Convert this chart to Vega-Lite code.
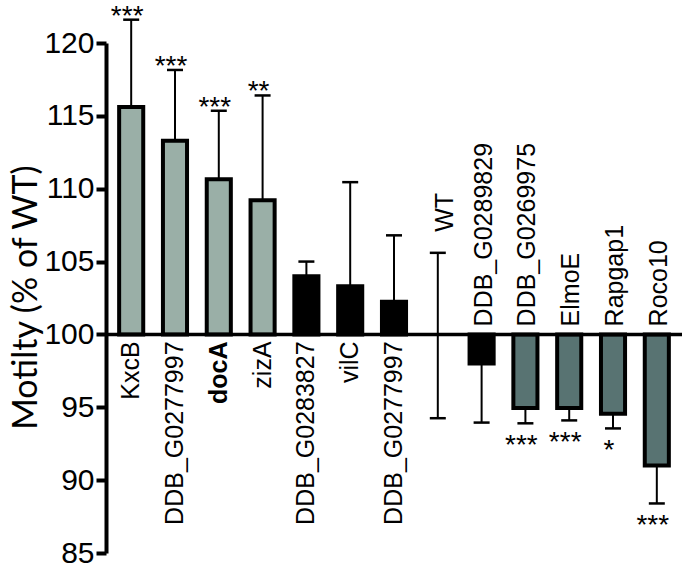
{
  "$schema": "https://vega.github.io/schema/vega-lite/v6.json",
  "width": 576,
  "height": 510,
  "autosize": {"type": "none"},
  "padding": {"left": 106, "top": 43, "right": 3, "bottom": 16},
  "background": "white",
  "config": {
    "view": {"stroke": null},
    "font": "Liberation Sans",
    "axisY": {
      "domainColor": "black",
      "domainWidth": 4,
      "tickColor": "black",
      "tickWidth": 4,
      "tickSize": 10,
      "labelFont": "Liberation Sans",
      "labelFontSize": 30,
      "labelColor": "black",
      "labelPadding": 2,
      "grid": false,
      "titleFont": "Lato",
      "titleFontSize": 34,
      "titleFontWeight": "normal",
      "titleColor": "black",
      "titleX": -70,
      "titleY": 254,
      "titleBaseline": "alphabetic"
    }
  },
  "data": {
    "values": [
      {"key": "k01", "name": "KxcB", "value": 115.6, "errHi": 121.6, "errLo": null, "dir": "up", "grp": "light", "sig": "***"},
      {"key": "k02", "name": "DDB_G0277997", "value": 113.3, "errHi": 118.15, "errLo": null, "dir": "up", "grp": "light", "sig": "***"},
      {"key": "k03", "name": "docA", "value": 110.65, "errHi": 115.35, "errLo": null, "dir": "up", "grp": "light", "sig": "***"},
      {"key": "k04", "name": "zizA", "value": 109.2, "errHi": 116.4, "errLo": null, "dir": "up", "grp": "light", "sig": "**"},
      {"key": "k05", "name": "DDB_G0283827", "value": 104.0, "errHi": 105.0, "errLo": null, "dir": "up", "grp": "black", "sig": ""},
      {"key": "k06", "name": "vilC", "value": 103.3, "errHi": 110.45, "errLo": null, "dir": "up", "grp": "black", "sig": ""},
      {"key": "k07", "name": "DDB_G0277997", "value": 102.25, "errHi": 106.8, "errLo": null, "dir": "up", "grp": "black", "sig": ""},
      {"key": "k08", "name": "WT", "value": 100, "errHi": 105.6, "errLo": 94.25, "dir": "both", "grp": "none", "sig": ""},
      {"key": "k09", "name": "DDB_G0289829", "value": 98.0, "errHi": null, "errLo": 93.95, "dir": "down", "grp": "black", "sig": ""},
      {"key": "k10", "name": "DDB_G0269975", "value": 94.95, "errHi": null, "errLo": 93.9, "dir": "down", "grp": "dark", "sig": "***"},
      {"key": "k11", "name": "ElmoE", "value": 94.95, "errHi": null, "errLo": 94.1, "dir": "down", "grp": "dark", "sig": "***"},
      {"key": "k12", "name": "Rapgap1", "value": 94.55, "errHi": null, "errLo": 93.55, "dir": "down", "grp": "dark", "sig": "*"},
      {"key": "k13", "name": "Roco10", "value": 91.0, "errHi": null, "errLo": 88.4, "dir": "down", "grp": "dark", "sig": "***"}
    ]
  },
  "layer": [
    {
      "transform": [{"filter": "datum.grp !== 'none'"}],
      "mark": {"type": "bar", "stroke": "black", "strokeWidth": 4},
      "encoding": {
        "x": {"field": "key", "type": "nominal", "sort": "ascending", "axis": null, "scale": {"domain": ["k01","k02","k03","k04","k05","k06","k07","k08","k09","k10","k11","k12","k13"], "paddingInner": 0.45, "paddingOuter": 0.3}},
        "y": {"field": "value", "type": "quantitative", "title": "Motilty (% of WT)", "scale": {"domain": [85, 120], "nice": false, "zero": false}, "axis": {"values": [85, 90, 95, 100, 105, 110, 115, 120]}},
        "y2": {"datum": 100},
        "color": {"field": "grp", "type": "nominal", "legend": null, "scale": {"domain": ["light", "black", "dark"], "range": ["#9AAFA7", "#000000", "#587372"]}}
      }
    },
    {
      "transform": [{"filter": "isValid(datum.errHi)"}],
      "mark": {"type": "rule", "strokeWidth": 2, "color": "black"},
      "encoding": {
        "x": {"field": "key", "type": "nominal", "sort": "ascending", "axis": null},
        "y": {"field": "value", "type": "quantitative", "title": "Motilty (% of WT)"},
        "y2": {"field": "errHi"}
      }
    },
    {
      "transform": [{"filter": "isValid(datum.errLo)"}],
      "mark": {"type": "rule", "strokeWidth": 2, "color": "black"},
      "encoding": {
        "x": {"field": "key", "type": "nominal", "sort": "ascending", "axis": null},
        "y": {"field": "value", "type": "quantitative", "title": "Motilty (% of WT)"},
        "y2": {"field": "errLo"}
      }
    },
    {
      "transform": [{"filter": "isValid(datum.errHi)"}],
      "mark": {"type": "tick", "size": 16, "thickness": 2.5, "color": "black", "opacity": 1},
      "encoding": {
        "x": {"field": "key", "type": "nominal", "sort": "ascending", "axis": null},
        "y": {"field": "errHi", "type": "quantitative", "title": "Motilty (% of WT)"}
      }
    },
    {
      "transform": [{"filter": "isValid(datum.errLo)"}],
      "mark": {"type": "tick", "size": 16, "thickness": 2.5, "color": "black", "opacity": 1},
      "encoding": {
        "x": {"field": "key", "type": "nominal", "sort": "ascending", "axis": null},
        "y": {"field": "errLo", "type": "quantitative", "title": "Motilty (% of WT)"}
      }
    },
    {
      "data": {"values": [{"base": 100}]},
      "mark": {"type": "rule", "strokeWidth": 3.5, "color": "black"},
      "encoding": {
        "y": {"field": "base", "type": "quantitative", "title": "Motilty (% of WT)"}
      }
    },
    {
      "transform": [{"filter": "datum.dir === 'up' && datum.sig !== ''"}],
      "mark": {"type": "text", "fontSize": 28, "baseline": "alphabetic", "align": "center", "dx": -4, "dy": 5, "color": "black"},
      "encoding": {
        "x": {"field": "key", "type": "nominal", "sort": "ascending", "axis": null},
        "y": {"field": "errHi", "type": "quantitative", "title": "Motilty (% of WT)"},
        "text": {"field": "sig"}
      }
    },
    {
      "transform": [{"filter": "datum.dir === 'down' && datum.sig !== ''"}],
      "mark": {"type": "text", "fontSize": 28, "baseline": "alphabetic", "align": "center", "dx": -4, "dy": 31, "color": "black"},
      "encoding": {
        "x": {"field": "key", "type": "nominal", "sort": "ascending", "axis": null},
        "y": {"field": "errLo", "type": "quantitative", "title": "Motilty (% of WT)"},
        "text": {"field": "sig"}
      }
    },
    {
      "transform": [{"filter": "datum.dir === 'up' && datum.name !== 'docA'"}],
      "mark": {"type": "text", "fontSize": 25, "angle": 270, "align": "right", "baseline": "middle", "dx": -7, "color": "black"},
      "encoding": {
        "x": {"field": "key", "type": "nominal", "sort": "ascending", "axis": null},
        "y": {"datum": 100, "type": "quantitative"},
        "text": {"field": "name"}
      }
    },
    {
      "transform": [{"filter": "datum.name === 'docA'"}],
      "mark": {"type": "text", "fontSize": 25, "fontWeight": "bold", "angle": 270, "align": "right", "baseline": "middle", "dx": -7, "color": "black"},
      "encoding": {
        "x": {"field": "key", "type": "nominal", "sort": "ascending", "axis": null},
        "y": {"datum": 100, "type": "quantitative"},
        "text": {"field": "name"}
      }
    },
    {
      "transform": [{"filter": "datum.dir === 'down'"}],
      "mark": {"type": "text", "fontSize": 25, "angle": 270, "align": "left", "baseline": "middle", "dx": 8, "dy": 2, "color": "black"},
      "encoding": {
        "x": {"field": "key", "type": "nominal", "sort": "ascending", "axis": null},
        "y": {"datum": 100, "type": "quantitative"},
        "text": {"field": "name"}
      }
    },
    {
      "transform": [{"filter": "datum.dir === 'both'"}],
      "mark": {"type": "text", "fontSize": 25, "angle": 270, "align": "left", "baseline": "middle", "dx": 21, "dy": 7, "color": "black"},
      "encoding": {
        "x": {"field": "key", "type": "nominal", "sort": "ascending", "axis": null},
        "y": {"field": "errHi", "type": "quantitative", "title": "Motilty (% of WT)"},
        "text": {"field": "name"}
      }
    }
  ]
}
